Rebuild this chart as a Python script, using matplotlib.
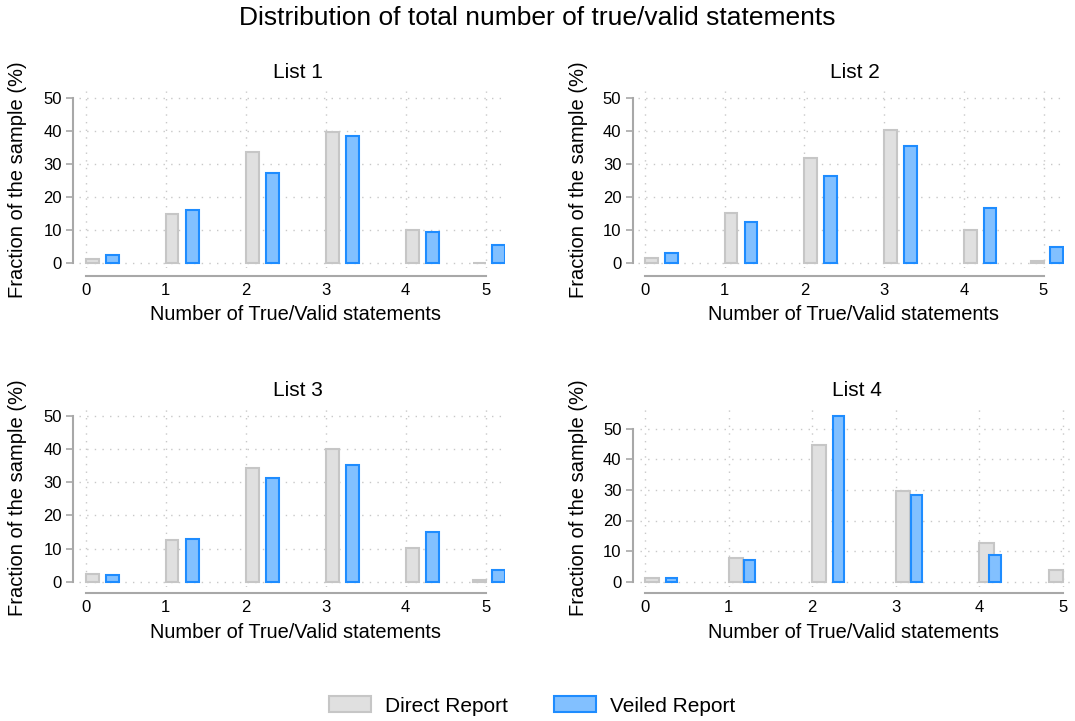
import matplotlib
matplotlib.use("Agg")
import matplotlib.pyplot as plt
from matplotlib.patches import Patch
import numpy as np

plt.rcParams['font.family'] = ['Liberation Sans', 'DejaVu Sans']

counts = [0, 1, 2, 3, 4, 5]
titles = ["List 1", "List 2", "List 3", "List 4"]

direct1 = [1.2, 14.8, 33.6, 39.7, 10.0, 0.2]
veiled1 = [2.5, 16.1, 27.3, 38.5, 9.4, 5.6]
direct2 = [1.5, 15.1, 32.0, 40.3, 10.0, 0.6]
veiled2 = [3.0, 12.4, 26.6, 35.5, 16.9, 4.8]
direct3 = [2.2, 12.7, 34.4, 39.9, 10.1, 0.4]
veiled3 = [1.9, 13.0, 31.2, 35.1, 14.9, 3.4]
direct4 = [1.1, 7.6, 44.7, 29.8, 12.5, 3.7]
veiled4 = [1.1, 7.2, 54.0, 28.4, 8.8, 0.0]

direct = [direct1, direct2, direct3, direct4]
veiled = [veiled1, veiled2, veiled3, veiled4]

W, H = 1075, 721
fig = plt.figure(figsize=(W / 100, H / 100), dpi=100)

gray_face, gray_edge = "#e0e0e0", "#c6c6c6"
blue_face, blue_edge = "#82c0ff", "#1e8cff"
axis_col = "#a8a8a8"

# pixel layout of each panel: zero position, px per unit, plot box, spine offsets
layout = [
    dict(x0=85.7, ux=80.0, y0=263.3, uy=3.30, box=(79, 91, 505, 268.3), yspine=73, xspine=276,
         goff=[0, 0, 0, 0, 0, -0.16], gw=0.16, boff=[0.25, 0.25, 0.25, 0.25, 0.25, 0.08], bw=0.16,
         title=(298, 72), ylab=(18, 180), xlab=(295, 314)),
    dict(x0=645.0, ux=79.7, y0=263.3, uy=3.30, box=(638, 91, 1064, 268.3), yspine=632.5, xspine=276,
         goff=[0, 0, 0, 0, 0, -0.16], gw=0.16, boff=[0.25, 0.25, 0.25, 0.25, 0.25, 0.08], bw=0.16,
         title=(855, 72), ylab=(578, 180), xlab=(854, 314)),
    dict(x0=85.7, ux=80.0, y0=581.7, uy=3.314, box=(79, 409.3, 505, 586.7), yspine=73, xspine=593.3,
         goff=[0, 0, 0, 0, 0, -0.16], gw=0.16, boff=[0.25, 0.25, 0.25, 0.25, 0.25, 0.08], bw=0.16,
         title=(298, 391), ylab=(18, 498), xlab=(295, 632)),
    dict(x0=645.0, ux=83.6, y0=581.7, uy=3.06, box=(640, 409.3, 1070, 586.7), yspine=632.7, xspine=593.3,
         goff=[0, 0, 0, 0, 0, -0.17], gw=0.17, boff=[0.25, 0.18, 0.25, 0.18, 0.12, 0.12], bw=0.135,
         title=(857, 391), ylab=(578, 498), xlab=(854, 632)),
]

for i, L in enumerate(layout):
    l, t, r, b = L["box"]
    ax = fig.add_axes([l / W, 1 - b / H, (r - l) / W, (b - t) / H])
    ax.set_xlim((l - L["x0"]) / L["ux"], (r - L["x0"]) / L["ux"])
    ax.set_ylim((L["y0"] - b) / L["uy"], (L["y0"] - t) / L["uy"])

    x = np.array(counts, dtype=float)
    d = np.array(direct[i])
    v = np.array(veiled[i])
    ax.bar(x + np.array(L["goff"]), d, width=L["gw"], align="edge",
           color=gray_face, edgecolor=gray_edge, linewidth=1.5, zorder=3)
    m = v > 0
    ax.bar((x + np.array(L["boff"]))[m], v[m], width=L["bw"], align="edge",
           color=blue_face, edgecolor=blue_edge, linewidth=1.5, zorder=3)

    ax.set_xticks(counts)
    ax.set_yticks([0, 10, 20, 30, 40, 50])
    ax.grid(True, color="#c8c8c8", linestyle=(0, (1, 4.5)), linewidth=1.0, zorder=0)

    for s in ["top", "right"]:
        ax.spines[s].set_visible(False)
    ax.spines["left"].set_position(("outward", (l - L["yspine"]) * 0.72))
    ax.spines["bottom"].set_position(("outward", (L["xspine"] - b) * 0.72))
    ax.spines["left"].set_bounds(0, 50)
    ax.spines["bottom"].set_bounds(0, 5)
    for s in ["left", "bottom"]:
        ax.spines[s].set_color(axis_col)
        ax.spines[s].set_linewidth(1.5)
    ax.tick_params(axis="y", length=5, width=1.2, color=axis_col, labelsize=12, pad=3)
    ax.tick_params(axis="x", length=0, labelsize=12, pad=5)

    fig.text(L["title"][0] / W, 1 - L["title"][1] / H, titles[i], ha="center", va="center", fontsize=15)
    fig.text(L["ylab"][0] / W, 1 - L["ylab"][1] / H, "Fraction of the sample (%)",
             ha="center", va="center", rotation=90, fontsize=14.5)
    fig.text(L["xlab"][0] / W, 1 - L["xlab"][1] / H, "Number of True/Valid statements",
             ha="center", va="center", fontsize=14.4)

fig.text(0.5, 1 - 18 / H, "Distribution of total number of true/valid statements",
         ha="center", va="center", fontsize=19)

handles = [Patch(facecolor=gray_face, edgecolor=gray_edge, linewidth=1.5, label="Direct Report"),
           Patch(facecolor=blue_face, edgecolor=blue_edge, linewidth=1.5, label="Veiled Report")]
fig.legend(handles=handles, loc="center", bbox_to_anchor=(0.495, 1 - 706 / H), ncol=2,
           frameon=False, fontsize=15, handlelength=2.0, handleheight=0.8,
           handletextpad=0.7, columnspacing=2.2)

fig.savefig("out.png", dpi=100)
plt.close(fig)
